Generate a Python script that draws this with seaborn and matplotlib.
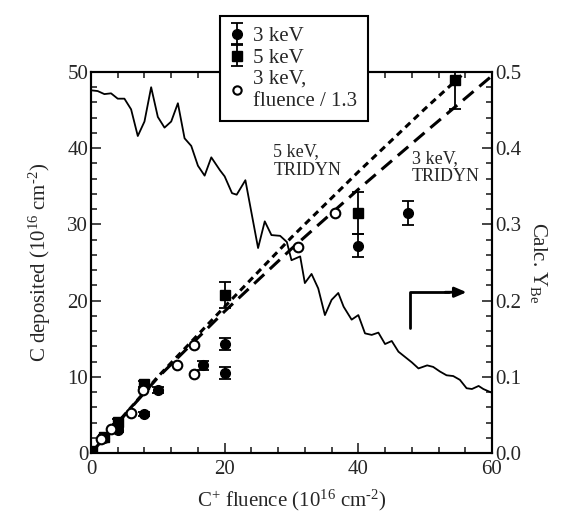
import numpy as np
import pandas as pd
import seaborn as sns
import matplotlib.pyplot as plt
from matplotlib.ticker import MultipleLocator

sns.set_style("ticks")
plt.rcParams['font.family'] = ['Liberation Serif', 'DejaVu Serif']
plt.rcParams['mathtext.fontset'] = 'custom'
plt.rcParams['mathtext.rm'] = 'Liberation Serif'
plt.rcParams['mathtext.it'] = 'Liberation Serif:italic'

# measured C deposited, 3 keV
x3 = [2, 4, 8, 10, 16.7, 20, 20, 40, 47.4]
y3 = [2.0, 3.0, 5.1, 8.3, 11.5, 10.5, 14.3, 27.2, 31.5]
e3 = [0.3, 0.3, 0.3, 0.4, 0.6, 0.8, 0.8, 1.5, 1.6]

# measured C deposited, 5 keV
x5 = [0.1, 2, 4, 8, 20, 40, 54.5]
y5 = [0.2, 2.1, 4.1, 9.1, 20.7, 31.5, 49.0]
e5 = [0.3, 0.3, 0.3, 0.4, 1.7, 2.7, 3.9]

# 3 keV with fluence scaled down by 1.3
x3s = [1.5, 3.0, 6.0, 7.8, 12.8, 15.4, 15.4, 30.9, 36.5]
y3s = [1.9, 3.1, 5.2, 8.3, 11.5, 10.4, 14.2, 27.1, 31.5]

# TRIDYN curves
xt5 = [0, 10, 20, 30, 40, 50, 56]
yt5 = [0, 10, 19.2, 28.3, 36.9, 45.2, 50]
xt3 = [0, 10, 20, 30, 40, 50, 60]
yt3 = [0, 9.9, 18.6, 26.8, 34.6, 42.1, 49.5]

# calculated Be yield (right axis)
xy = [0, 1, 2, 3, 4, 5, 6, 7, 8, 9, 10, 11, 12, 13, 14, 15, 16, 17, 18, 19.3, 20,
      21.1, 21.8, 23.1, 25, 26, 27, 28.3, 29.3, 30, 31.3, 32, 33, 34, 35, 36, 37,
      37.8, 39, 40, 41, 42, 43, 44, 45, 46, 47, 48, 49, 50.3, 51.2, 52.2, 53.2,
      54.2, 55.2, 56.2, 57, 58, 58.7, 60]
yy = [0.476, 0.475, 0.471, 0.472, 0.465, 0.465, 0.451, 0.416, 0.435, 0.480, 0.441,
      0.427, 0.435, 0.459, 0.413, 0.403, 0.377, 0.364, 0.388, 0.371, 0.363,
      0.341, 0.339, 0.358, 0.269, 0.304, 0.286, 0.285, 0.277, 0.253, 0.258,
      0.223, 0.235, 0.216, 0.181, 0.201, 0.210, 0.192, 0.175, 0.181, 0.157,
      0.155, 0.158, 0.143, 0.147, 0.133, 0.126, 0.119, 0.111, 0.115, 0.113,
      0.107, 0.102, 0.101, 0.096, 0.085, 0.084, 0.088, 0.084, 0.079]

df3s = pd.DataFrame({"x": x3s, "y": y3s})
dfy = pd.DataFrame({"x": xy, "y": yy})

fs = 15

fig = plt.figure(figsize=(5.67, 5.21), dpi=100)
ax = fig.add_axes([0.1605, 0.1305, 0.7072, 0.7313])
ax2 = ax.twinx()

sns.lineplot(ax=ax, x=xt5, y=yt5, color='k', lw=2.2, linestyle=(0, (2.2, 1.6)), legend=False)
sns.lineplot(ax=ax, x=xt3, y=yt3, color='k', lw=2.2, linestyle=(0, (4.5, 2.5)), legend=False)

h3 = ax.errorbar(x3, y3, yerr=e3, fmt='o', color='k', ms=7, capsize=4,
                 elinewidth=1.3, capthick=1.3)
h5 = ax.errorbar(x5, y5, yerr=e5, fmt='s', color='k', ms=7, capsize=4,
                 elinewidth=1.3, capthick=1.3)
sns.scatterplot(ax=ax, data=df3s, x="x", y="y", marker='o', s=48,
                facecolor='white', edgecolor='k', linewidth=1.5, zorder=3, legend=False)
h3s = plt.Line2D([], [], marker='o', ls='none', mfc='white', mec='k', ms=6, mew=1.5)

sns.lineplot(ax=ax2, data=dfy, x="x", y="y", color='k', lw=1.3, legend=False)

if ax.get_legend() is not None:
    ax.get_legend().remove()

ax.set_xlim(0, 60)
ax.set_ylim(0, 50)
ax2.set_ylim(0, 0.5)
ax.xaxis.set_major_locator(MultipleLocator(20))
ax.xaxis.set_minor_locator(MultipleLocator(4))
ax.yaxis.set_major_locator(MultipleLocator(10))
ax.yaxis.set_minor_locator(MultipleLocator(2))
ax2.yaxis.set_major_locator(MultipleLocator(0.1))
ax2.yaxis.set_minor_locator(MultipleLocator(0.02))
ax2.yaxis.set_major_formatter(lambda v, p: f"{v:.1f}")

ax.tick_params(which='both', direction='in', top=True, labelsize=fs, width=1.2, pad=5)
ax.tick_params(which='major', length=7)
ax.tick_params(which='minor', length=4)
ax.tick_params(axis='y', which='both', right=False, pad=2)
ax2.tick_params(which='both', direction='in', labelsize=fs, width=1.2, pad=2)
ax2.tick_params(which='major', length=7)
ax2.tick_params(which='minor', length=4)
for a in (ax, ax2):
    for s in a.spines.values():
        s.set_linewidth(1.5)
        s.set_color('k')

ax.set_xlabel("C$^{+}$ fluence (10$^{16}$ cm$^{\\text{-}2}$)", fontsize=fs, labelpad=6)
ax.set_ylabel("C deposited (10$^{16}$ cm$^{\\text{-}2}$)", fontsize=fs, labelpad=10)
ax2.set_ylabel("Calc. Y$_{\\rm Be}$", fontsize=fs, rotation=-90, labelpad=20)

ax.text(27.3, 36.5, "5 keV,\nTRIDYN", fontsize=13, linespacing=1.1)
ax.text(48.0, 35.7, "3 keV,\nTRIDYN", fontsize=13, linespacing=1.1)
ax.plot([47.8, 47.8, 53.5], [16.4, 21.1, 21.1], color='k', lw=2)
ax.annotate("", xy=(56.2, 21.1), xytext=(53.0, 21.1),
            arrowprops=dict(arrowstyle='-|>,head_length=0.7,head_width=0.3',
                            color='k', lw=2, shrinkA=0, shrinkB=0))

leg = fig.legend([h3, h5, h3s], ["3 keV", "5 keV", "3 keV,\nfluence / 1.3"],
                 loc='upper left', bbox_to_anchor=(0.388, 0.969), fontsize=fs,
                 frameon=True, fancybox=False, framealpha=1, edgecolor='k',
                 handlelength=0.6, handletextpad=0.5, borderpad=0.5,
                 labelspacing=0.1, borderaxespad=0)
leg.get_frame().set_linewidth(1.5)

fig.savefig("out.png", dpi=100)
